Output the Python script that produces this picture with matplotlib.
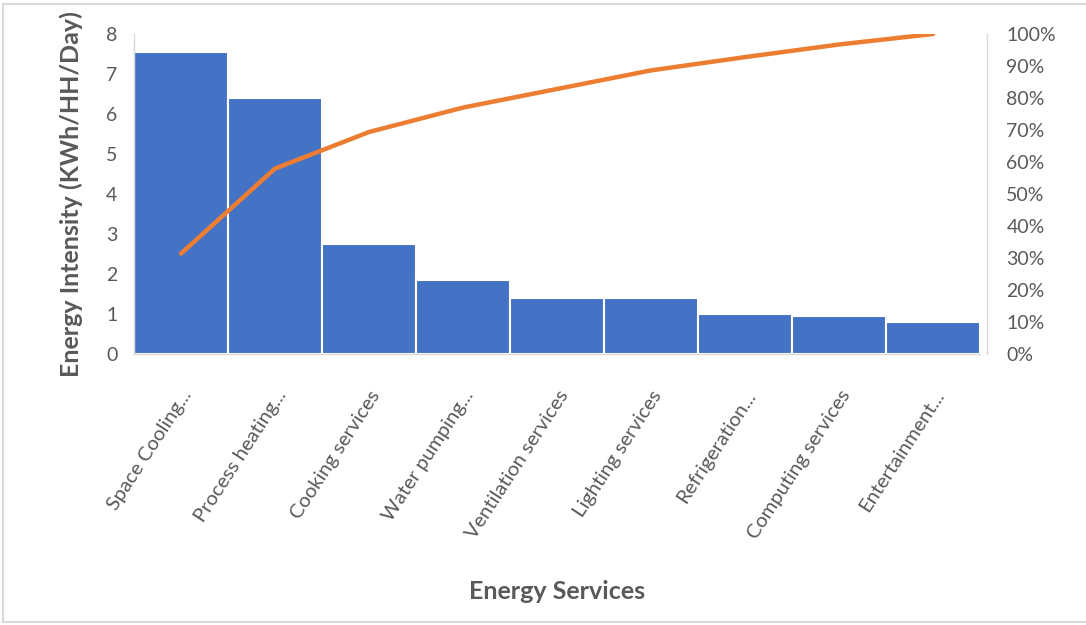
import matplotlib
matplotlib.use('Agg')
import numpy as np
import matplotlib.pyplot as plt
from matplotlib.ticker import PercentFormatter

# values (kWh per household per day)
services = ['Space Cooling...', 'Process heating...', 'Cooking services',
            'Water pumping...', 'Ventilation services', 'Lighting services',
            'Refrigeration...', 'Computing services', 'Entertainment...']
intensity = [7.56, 6.40, 2.75, 1.84, 1.40, 1.40, 1.00, 0.95, 0.79]

# pareto line: cumulative share of the total
cum_pct = np.cumsum(intensity) / np.sum(intensity) * 100

plt.rcParams['font.family'] = ['Lato', 'DejaVu Sans']
grey = '#595959'

fig = plt.figure(figsize=(10.86, 6.25), dpi=100)
ax = fig.add_axes([134 / 1086, 1 - 354 / 625, 846 / 1086, 320 / 625])
x = np.arange(len(services))

ax.bar(x, intensity, width=1.0, color='#4472C4', edgecolor='white', linewidth=1.5)
ax.set_xlim(-0.5, len(services) - 0.5)
ax.set_ylim(0, 8)
ax.set_yticks(range(0, 9))

ax2 = ax.twinx()
ax2.plot(x, cum_pct, color='#ED7D31', linewidth=3.2, solid_capstyle='round')
ax2.set_ylim(0, 100)
ax2.set_yticks(range(0, 101, 10))
ax2.yaxis.set_major_formatter(PercentFormatter(decimals=0))

for a in (ax, ax2):
    for s in a.spines.values():
        s.set_visible(False)
    a.tick_params(length=0, labelsize=14, colors=grey)
ax.spines['left'].set_visible(True)
ax.spines['bottom'].set_visible(True)
ax2.spines['right'].set_visible(True)
for s in (ax.spines['left'], ax.spines['bottom'], ax2.spines['right']):
    s.set_color('#D9D9D9')
    s.set_linewidth(1)
ax2.spines['right'].set_position(('outward', 5))

ax.tick_params(axis='y', pad=12)
ax2.tick_params(axis='y', pad=14)
ax.set_xticks(x)
ax.set_xticklabels(services, rotation=57, ha='right', va='top',
                   rotation_mode='anchor', fontsize=14.5)
ax.tick_params(axis='x', pad=24)

ax.set_ylabel('Energy Intensity (KWh/HH/Day)', fontsize=18, fontweight='bold',
              color=grey)
ax.yaxis.set_label_coords(-51 / 846, 0.5)
ax.set_xlabel('Energy Services', fontsize=18, fontweight='bold', color=grey)
ax.xaxis.set_label_coords(0.5, -226 / 320)

# light frame around the chart like the Excel chart area
for xs, ys in [((3, 3), (4, 622)), ((3, 1086), (4, 4)), ((3, 1086), (622, 622))]:
    fig.add_artist(plt.Line2D([v / 1086 for v in xs], [1 - v / 625 for v in ys],
                              color='#D9D9D9', linewidth=1.5))

plt.savefig('out.png')
